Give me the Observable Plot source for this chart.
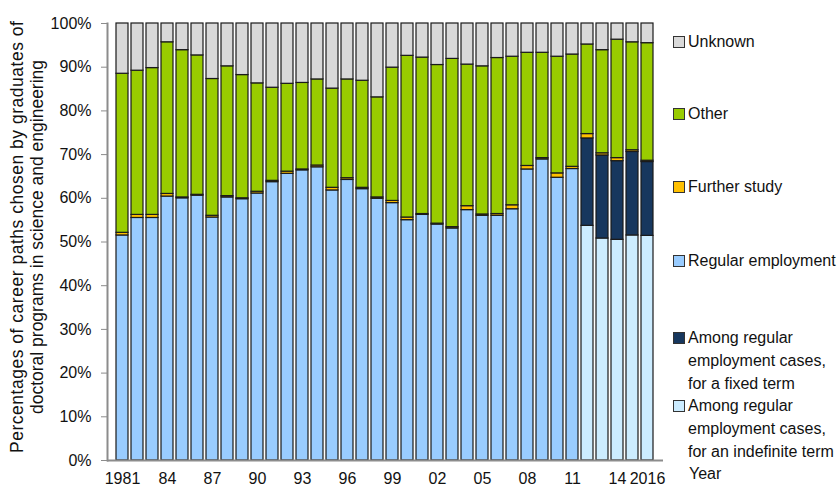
<!DOCTYPE html>
<html>
<head>
<meta charset="utf-8">
<script src="https://cdn.jsdelivr.net/npm/d3@7"></script>
<script src="https://cdn.jsdelivr.net/npm/@observablehq/plot@0.6"></script>
<style>
  html, body { margin: 0; padding: 0; background: #fff; }
  #wrap { position: relative; width: 837px; height: 486px; font-family: "Liberation Sans", Arial, sans-serif; color: #111; }
  #chart { position: absolute; left: 0; top: 0; }
  .leg { position: absolute; left: 688px; font-size: 16px; line-height: 23px; white-space: nowrap; }
  .sw { position: absolute; left: 673px; width: 10px; height: 10px; border: 1px solid #333; }
  #ylab { position: absolute; left: 0; top: 0; }
  #xlab { position: absolute; left: 689px; top: 465px; font-size: 16px; line-height: 18px; }
</style>
</head>
<body>
<div id="wrap">
  <div id="chart"></div>
  <svg id="ylab" width="60" height="486"></svg>
  <div id="xlab">Year</div>
</div>
<script>
const years = [1981,1982,1983,1984,1985,1986,1987,1988,1989,1990,1991,1992,1993,1994,1995,1996,1997,1998,1999,2000,2001,2002,2003,2004,2005,2006,2007,2008,2009,2010,2011,2012,2013,2014,2015,2016];

// Regular employment, 1981–2011 (not split)
const regular = [51.5,55.5,55.5,60.4,60.0,60.6,55.6,60.2,59.8,61.1,63.7,65.6,66.4,67.1,61.8,64.2,62.1,59.9,58.9,55.0,56.2,54.0,53.1,57.3,56.0,56.0,57.5,66.6,68.9,64.7,66.7];
// 2012–2016 split of regular employment
const indefinite = [53.7,50.8,50.5,51.5,51.4];
const fixedTerm = [20.0,19.0,18.0,19.1,16.9];
const further = [0.6,0.7,0.7,0.6,0.2,0.2,0.4,0.3,0.2,0.4,0.3,0.5,0.2,0.4,0.6,0.4,0.3,0.3,0.5,0.6,0.2,0.2,0.3,0.9,0.3,0.4,0.9,0.8,0.3,1.0,0.5,1.0,0.5,0.7,0.4,0.3];
const other = [36.4,33.0,33.6,34.7,33.7,31.9,31.3,29.7,28.2,24.8,21.3,20.1,19.8,19.7,22.7,22.6,24.5,22.9,30.5,37.0,35.8,36.3,38.5,32.4,33.9,35.7,34.0,25.9,24.1,26.7,25.7,20.5,23.6,27.1,24.7,26.9];
const unknown = [11.5,10.8,10.2,4.3,6.1,7.3,12.7,9.8,11.8,13.7,14.7,13.8,13.6,12.8,14.9,12.8,13.1,16.9,10.1,7.4,7.8,9.5,8.1,9.4,9.8,7.9,7.6,6.7,6.7,7.6,7.1,4.8,6.1,3.7,4.3,4.5];

const xTicks = [1981,1984,1987,1990,1993,1996,1999,2002,2005,2008,2011,2014,2016];
const xTickLabels = ["1981","84","87","90","93","96","99","02","05","08","11","14","2016"];
const yTicks = [0,10,20,30,40,50,60,70,80,90,100];

const categories = [
  "Among regular employment cases, for an indefinite term",
  "Among regular employment cases, for a fixed term",
  "Regular employment",
  "Further study",
  "Other",
  "Unknown"
];
const colors = ["#ccecff", "#17375e", "#99ccff", "#ffc000", "#99cc00", "#d9d9d9"];

const rows = [];
years.forEach((yr, i) => {
  if (i < regular.length) {
    rows.push({year: yr, cat: categories[2], value: regular[i]});
  } else {
    rows.push({year: yr, cat: categories[0], value: indefinite[i - regular.length]});
    rows.push({year: yr, cat: categories[1], value: fixedTerm[i - regular.length]});
  }
  rows.push({year: yr, cat: categories[3], value: further[i]});
  rows.push({year: yr, cat: categories[4], value: other[i]});
  rows.push({year: yr, cat: categories[5], value: unknown[i]});
});

const plot = Plot.plot({
  width: 837,
  height: 486,
  marginLeft: 107,
  marginRight: 174,
  marginTop: 23,
  marginBottom: 26,
  style: {fontFamily: "'Liberation Sans', Arial, sans-serif", fontSize: "16px", color: "#111", background: "#fff"},
  x: {type: "band", domain: years, padding: 0.18},
  y: {domain: [0, 100]},
  color: {domain: categories, range: colors},
  marks: [
    Plot.barY(rows, Plot.stackY({
      x: "year", y: "value", fill: "cat", order: categories,
      stroke: "#1a1a1a", strokeWidth: 1.2
    })),
    Plot.ruleY([0], {stroke: "#8c8c8c", strokeWidth: 2}),
    Plot.frame({anchor: "left", stroke: "#8c8c8c", strokeWidth: 2}),
    Plot.axisY({ticks: yTicks, tickFormat: d => d + "%", tickSize: 6, tickPadding: 10, stroke: "#8c8c8c", label: null}),
    Plot.axisX({ticks: xTicks, tickFormat: d => xTickLabels[xTicks.indexOf(d)], tickSize: 0, tickPadding: 12, label: null})
  ]
});
document.getElementById("chart").appendChild(plot);

// Y-axis title (two lines, rotated)
const ylab = d3.select("#ylab");
const ylines = ["Percentages of career paths chosen by graduates of", "doctoral programs in science and engineering"];
const ybase = [23, 43];
ylines.forEach((t, i) => {
  const el = ylab.append("text")
    .attr("transform", `translate(${ybase[i]},237) rotate(-90)`)
    .attr("text-anchor", "middle")
    .attr("font-family", "'Liberation Sans', Arial, sans-serif")
    .attr("font-size", 17.5)
    .attr("fill", "#111")
    .text(t);
  if (i === 0) el.attr("textLength", 432).attr("lengthAdjust", "spacing");
});

// Legend (top to bottom)
const legendItems = [
  {cat: categories[5], lines: ["Unknown"], cy: 41},
  {cat: categories[4], lines: ["Other"], cy: 113},
  {cat: categories[3], lines: ["Further study"], cy: 186},
  {cat: categories[2], lines: ["Regular employment"], cy: 260},
  {cat: categories[1], lines: ["Among regular", "employment cases,", "for a fixed term"], cy: 337},
  {cat: categories[0], lines: ["Among regular", "employment cases,", "for an indefinite term"], cy: 405}
];
const wrap = document.getElementById("wrap");
legendItems.forEach(it => {
  const sw = document.createElement("div");
  sw.className = "sw";
  sw.style.top = (it.cy - 5.5) + "px";
  sw.style.background = colors[categories.indexOf(it.cat)];
  wrap.appendChild(sw);
  const tx = document.createElement("div");
  tx.className = "leg";
  tx.style.top = (it.cy - 11.5) + "px";
  tx.innerHTML = it.lines.join("<br>");
  wrap.appendChild(tx);
});
</script>
</body>
</html>
